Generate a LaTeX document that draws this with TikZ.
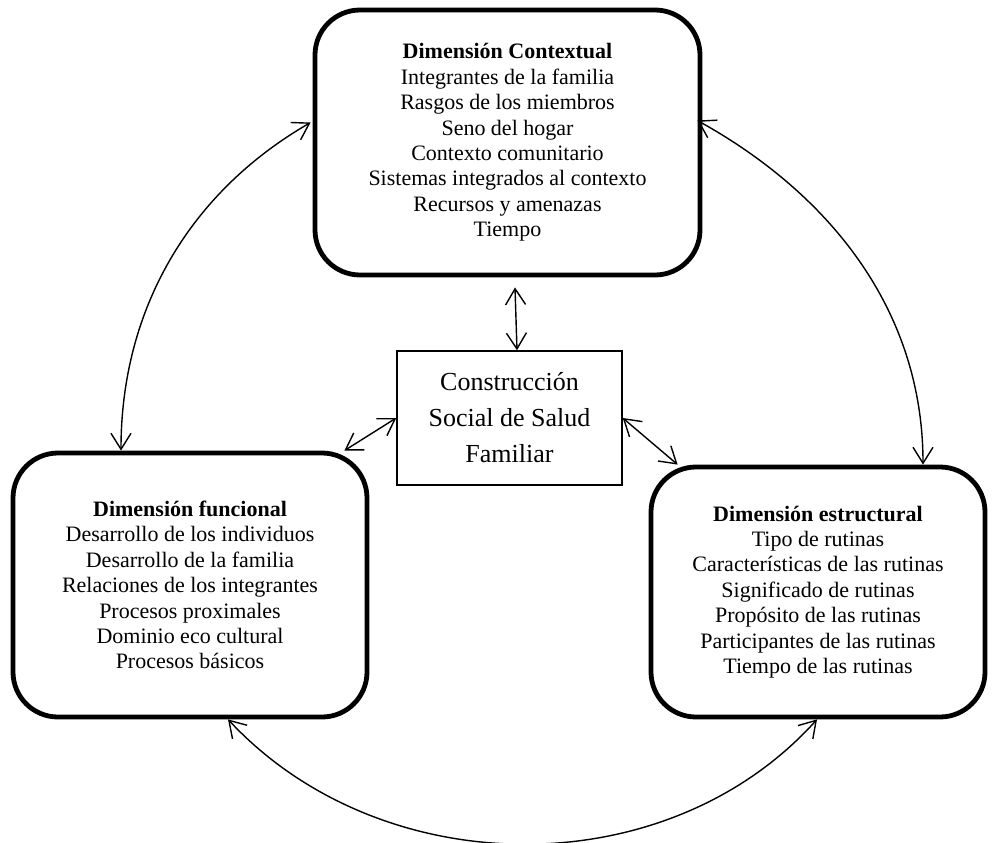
\documentclass[tikz,border=0pt]{standalone}
\usepackage{fontspec}
\setmainfont{Liberation Serif}
\usetikzlibrary{arrows.meta}
\begin{document}
\begin{tikzpicture}[x=1pt,y=-1pt,
  dimbox/.style={draw, line width=4.8pt, rounded corners=45pt, align=center, inner sep=0pt,
    font=\fontsize{22}{25.4}\selectfont},
  centerbox/.style={draw, line width=1.5pt, align=center, inner sep=0pt,
    font=\fontsize{26}{36}\selectfont},
  link/.style={line width=1.4pt, {Straight Barb[length=16pt,width=20pt]}-{Straight Barb[length=16pt,width=20pt]}}]
\useasboundingbox (0,0) rectangle (996,843);

\node[dimbox, minimum width=385pt, minimum height=265pt] (ctx) at (507.5,142.5)
  {\textbf{Dimensión Contextual}\\Integrantes de la familia\\Rasgos de los miembros\\Seno del hogar\\Contexto comunitario\\Sistemas integrados al contexto\\Recursos y amenazas\\Tiempo};

\node[dimbox, minimum width=354pt, minimum height=264pt] (fun) at (190,585)
  {\textbf{Dimensión funcional}\\Desarrollo de los individuos\\Desarrollo de la familia\\Relaciones de los integrantes\\Procesos proximales\\Dominio eco cultural\\Procesos básicos};

\node[dimbox, minimum width=334pt, minimum height=250pt] (est) at (818,592)
  {\textbf{Dimensión estructural}\\Tipo de rutinas\\Características de las rutinas\\Significado de rutinas\\Propósito de las rutinas\\Participantes de las rutinas\\Tiempo de las rutinas};

\node[centerbox, minimum width=225pt, minimum height=134pt] (cen) at (509.5,418)
  {Construcción\\Social de Salud\\Familiar};

% straight connectors
\draw[link] ([xshift=7.5pt,yshift=-10pt]ctx.south) -- ([xshift=7.5pt]cen.north);
\draw[link] (cen.west) -- ([xshift=-25pt]fun.north east);
\draw[link] (cen.east) -- ([xshift=29pt]est.north west);

% arcs
\draw[link] ([xshift=-2pt,yshift=20pt]ctx.west) to[out=210,in=90,looseness=0.95] ([xshift=-69pt]fun.north);
\draw[link] ([xshift=-5pt,yshift=22pt]ctx.east) to[out=-29,in=90,looseness=0.95] ([xshift=105pt]est.north);
\draw[link] ([xshift=38pt]fun.south) to[out=-47,in=-132,looseness=0.98] ([xshift=-1pt]est.south);
\end{tikzpicture}
\end{document}
